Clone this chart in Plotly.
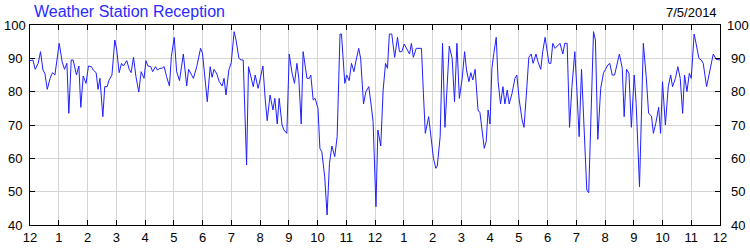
import plotly.graph_objects as go

# Time of day in minutes since midnight
minutes = [
    0, 6, 11, 17, 22, 27, 31, 36, 42, 47, 52, 57, 61, 67, 72, 77, 81, 86, 90, 97,
    102, 106, 111, 117, 122, 128, 132, 138, 142, 146, 152, 156, 161, 165, 171, 177, 181, 186, 191, 195,
    202, 207, 211, 216, 221, 227, 232, 238, 242, 246, 252, 256, 262, 266, 271,
    275, 280, 285, 291, 295, 301, 306, 312, 320, 327, 331, 341, 348, 356, 360, 366, 370, 376, 380, 384,
    390, 395, 401, 405, 409, 415, 420, 426, 430, 436, 441, 445, 452, 456, 462, 466, 470, 476, 480, 486,
    491, 495, 501,
    507, 511, 516, 520, 526, 530, 536, 541, 547, 552, 557, 561, 566, 570, 578, 583, 586, 591, 595, 601,
    605, 609, 615, 620, 625, 630, 636, 641, 647, 650, 657, 661, 666, 671, 676, 680, 686, 690, 696, 701,
    707, 712, 716, 722, 726, 732, 737, 742, 746, 750, 755,
    761, 767, 771, 776, 781, 786, 792, 796, 800, 806, 811, 817, 821, 825, 832, 838, 842, 847, 850, 856,
    861, 866, 871, 875, 881, 886, 891, 896, 902, 907, 911, 916, 920, 924, 929, 935, 939, 943, 948, 952,
    956, 960, 964, 968, 973, 977, 982, 987, 991, 996, 1000, 1006, 1012, 1016,
    1021, 1027, 1031, 1037, 1041, 1046, 1050, 1056, 1060, 1066, 1070, 1075, 1083, 1087, 1091, 1096, 1102, 1106, 1112, 1116,
    1121, 1126, 1131, 1137, 1141, 1146, 1151, 1156, 1162, 1166, 1170, 1176, 1180, 1185, 1191, 1197, 1201, 1206, 1210, 1215,
    1220, 1226, 1230, 1236, 1240, 1245, 1250, 1255, 1261, 1265, 1272,
    1280, 1286, 1291, 1297, 1301, 1306, 1312, 1316, 1320, 1326, 1332, 1337, 1341, 1347, 1352, 1357, 1362, 1366, 1371, 1376,
    1380, 1386, 1390, 1396, 1401, 1405, 1412, 1417, 1422, 1426, 1432, 1437, 1440,
]

# Reception (%)
reception = [
    89.3, 89.5, 86.7, 88.5, 92.0, 86.5, 85.5, 80.7, 84.0, 85.7, 85.0, 90.5, 94.5, 89.0, 86.7, 88.5, 73.5, 89.5, 89.5, 85.0,
    87.7, 75.3, 84.7, 82.5, 87.7, 87.5, 86.5, 85.7, 80.7, 84.0, 72.5, 81.5, 81.5, 83.5, 85.0, 95.5, 92.5, 85.7, 88.5, 87.7,
    89.3, 86.7, 85.7, 90.3, 84.6, 79.9, 86.0, 84.0, 89.3, 87.7, 87.5, 86.0, 87.5, 86.5, 87.0,
    87.0, 87.5, 84.5, 81.7, 90.5, 96.3, 86.0, 83.3, 91.3, 81.7, 86.7, 84.0, 87.5, 93.0, 91.5, 83.5, 77.0, 87.5, 84.3, 86.7,
    85.3, 83.0, 81.7, 84.0, 79.0, 86.5, 88.7, 98.0, 95.5, 90.0, 89.5, 89.5, 58.0, 87.5, 83.5, 81.5, 85.0, 81.0, 83.5, 87.7,
    77.5, 71.3, 79.0,
    74.5, 78.0, 70.3, 78.0, 70.0, 68.5, 67.5, 91.3, 85.5, 82.5, 88.5, 84.0, 70.3, 92.0, 84.0, 84.0, 85.0, 77.5, 78.0, 75.0,
    63.0, 62.0, 54.5, 43.0, 58.5, 63.7, 60.5, 66.5, 97.3, 97.3, 82.5, 85.0, 83.3, 88.5, 86.0, 89.0, 93.0, 90.0, 76.3, 80.0,
    81.5, 76.0, 71.0, 45.5, 68.5, 63.7, 80.5, 88.5, 87.0, 97.3, 97.3,
    90.3, 96.3, 92.0, 92.0, 94.3, 92.7, 91.3, 94.5, 90.3, 93.0, 93.0, 93.0, 79.5, 67.5, 72.5, 65.5, 60.0, 57.0, 57.7, 66.5,
    94.5, 69.3, 83.5, 93.7, 90.0, 77.0, 94.5, 78.0, 84.0, 92.0, 86.5, 83.0, 85.7, 83.5, 86.7, 74.5, 73.7, 68.5, 63.0, 65.0,
    74.5, 70.3, 87.0, 91.5, 96.3, 83.0, 76.3, 81.5, 76.3, 80.5, 76.3, 79.5, 84.0, 85.0,
    77.5, 71.5, 69.3, 81.5, 90.3, 91.3, 88.5, 91.3, 89.0, 86.7, 92.0, 96.3, 88.5, 88.5, 94.5, 93.0, 94.0, 94.5, 91.3, 94.5,
    94.5, 69.3, 81.5, 92.0, 81.5, 66.5, 86.7, 69.5, 50.5, 49.7, 66.5, 98.0, 95.5, 65.7, 81.0, 85.7, 86.7, 88.0, 88.5, 85.0,
    85.0, 88.5, 91.3, 87.0, 72.5, 86.7, 85.5, 69.3, 85.0, 76.5, 51.5,
    94.5, 84.5, 73.5, 72.7, 67.5, 70.5, 75.3, 67.5, 83.0, 70.0, 81.5, 85.0, 81.5, 84.0, 87.5, 84.0, 73.5, 85.0, 80.0, 85.5,
    84.0, 97.3, 94.5, 90.0, 89.5, 88.5, 81.5, 85.0, 87.5, 91.3, 89.7, 89.7, 89.5,
]

hour_ticks = list(range(25))
hour_labels = ["12", "1", "2", "3", "4", "5", "6", "7", "8", "9", "10", "11",
               "12", "1", "2", "3", "4", "5", "6", "7", "8", "9", "10", "11", "12"]
y_ticks = [40, 50, 60, 70, 80, 90, 100]

title_text = "Weather Station Reception"
date_text = "7/5/2014"

hours = [m / 60 for m in minutes]
FONT = "Arial, 'Liberation Sans', sans-serif"
TICKFONT = dict(family=FONT, size=13, color="black")

fig = go.Figure()
fig.add_trace(go.Scatter(x=hours, y=reception, mode="lines",
                         line=dict(color="#1f1fff", width=1), hoverinfo="skip",
                         showlegend=False))
fig.add_trace(go.Scatter(x=[None], y=[None], yaxis="y2", showlegend=False,
                         hoverinfo="skip"))

axis_common = dict(
    showgrid=True, gridcolor="#d4d4d4", gridwidth=1,
    ticks="inside", ticklen=5, tickcolor="black", tickwidth=1,
    showline=True, linecolor="black", linewidth=1,
    zeroline=False, automargin=False,
    tickfont=TICKFONT,
)

# y tick labels centred in the side margins (as in the reference)
label_annotations = []
for v in y_ticks:
    label_annotations.append(dict(text=str(v), xref="paper", yref="y", x=0, y=v,
                                  xanchor="center", yanchor="middle", xshift=-15,
                                  showarrow=False, font=TICKFONT))
    label_annotations.append(dict(text=str(v), xref="paper", yref="y", x=1, y=v,
                                  xanchor="center", yanchor="middle", xshift=18,
                                  showarrow=False, font=TICKFONT))

fig.update_layout(
    template="none",
    width=750, height=250,
    margin=dict(l=30, r=30, t=25, b=25, pad=0),
    paper_bgcolor="white", plot_bgcolor="white",
    font=dict(family=FONT, size=13, color="black"),
    showlegend=False,
    xaxis=dict(range=[0, 24], tickmode="array", tickvals=hour_ticks,
               ticktext=hour_labels, mirror="ticks", **axis_common),
    yaxis=dict(range=[40, 100], tickmode="array", tickvals=y_ticks,
               mirror=True, showticklabels=False, **axis_common),
    yaxis2=dict(range=[40, 100], tickmode="array", tickvals=y_ticks,
                overlaying="y", side="right", showgrid=False,
                ticks="inside", ticklen=5, tickcolor="black",
                showline=True, linecolor="black", linewidth=1,
                zeroline=False, automargin=False, showticklabels=False),
    annotations=[
        dict(text=title_text, xref="paper", yref="paper", x=0, y=1,
             xanchor="left", yanchor="bottom", xshift=2, yshift=3,
             showarrow=False, font=dict(family=FONT, size=16, color="#2a2aff")),
        dict(text=date_text, xref="paper", yref="paper", x=1, y=1,
             xanchor="right", yanchor="bottom", xshift=-1, yshift=3,
             showarrow=False, font=dict(family=FONT, size=13, color="black")),
    ] + label_annotations,
)

fig.write_html("out.html")
